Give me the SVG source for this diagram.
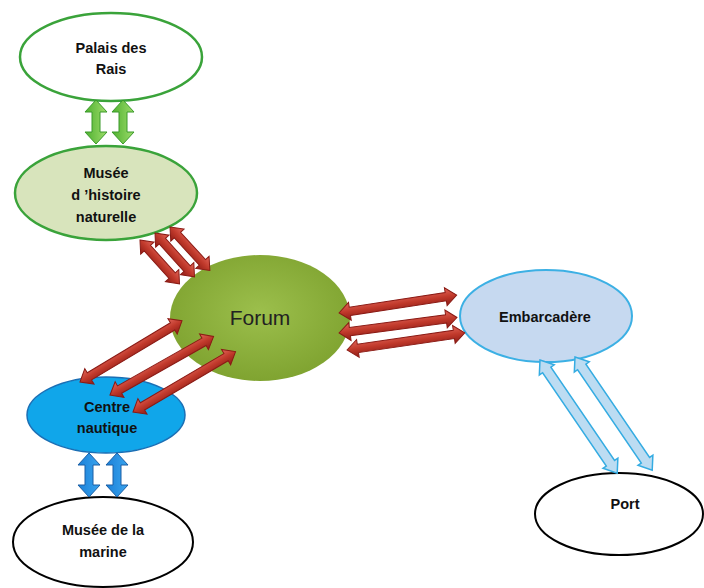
<svg xmlns="http://www.w3.org/2000/svg" xmlns:xlink="http://www.w3.org/1999/xlink" width="704" height="588" viewBox="0 0 704 588">
<style>
text{font-family:"Liberation Sans",Arial,sans-serif;font-weight:bold;font-size:14.5px;fill:#111;text-anchor:middle}
.forum{font-weight:normal;font-size:21px;fill:#222}
.red{fill:url(#gRed);stroke:#8a1a14;stroke-width:1}
.grn{fill:url(#gGrn);stroke:#3a9a2a;stroke-width:1}
.blu{fill:url(#gBlu);stroke:#1a5fa5;stroke-width:1}
.lbl{fill:#bcdcf2;stroke:#35ace2;stroke-width:1.5}
</style>
<defs>
<linearGradient id="gRed" x1="0" y1="0" x2="0" y2="1"><stop offset="0" stop-color="#e2665a"/><stop offset="0.5" stop-color="#c0392b"/><stop offset="1" stop-color="#8e1c16"/></linearGradient>
<linearGradient id="gGrn" x1="0" y1="0" x2="0" y2="1"><stop offset="0" stop-color="#9ddc6a"/><stop offset="1" stop-color="#4fb030"/></linearGradient>
<linearGradient id="gBlu" x1="0" y1="0" x2="0" y2="1"><stop offset="0" stop-color="#3aa4ee"/><stop offset="1" stop-color="#1a80d8"/></linearGradient>
<radialGradient id="gForum" cx="0.5" cy="0.45" r="0.6"><stop offset="0" stop-color="#9cbf4c"/><stop offset="1" stop-color="#7da12e"/></radialGradient>
<polygon id="a59" points="0,0 11,-9 11,-4.2 48,-4.2 48,-9 59,0 48,9 48,4.2 11,4.2 11,9"/>
<polygon id="a119" points="0,0 11,-9 11,-4.2 108,-4.2 108,-9 119,0 108,9 108,4.2 11,4.2 11,9"/>
<polygon id="a137" points="0,0 12,-9 12,-5 125,-5 125,-9 137,0 125,9 125,5 12,5 12,9"/>
<polygon id="a45" points="0,0 12,-11 12,-4 32,-4 32,-11 44,0 32,11 32,4 12,4 12,11"/>
</defs>
<rect width="704" height="588" fill="#fff"/>
<g id="palais">
<ellipse cx="111" cy="57" rx="91" ry="44" fill="#fff" stroke="#3aa33a" stroke-width="2.5"/>
<text x="111" y="53">Palais des</text><text x="111" y="74">Rais</text>
</g>
<g id="musee-histoire">
<ellipse cx="106" cy="193" rx="91" ry="47" fill="#d8e4bc" stroke="#3aa33a" stroke-width="2.5"/>
<text x="106" y="178">Musée</text><text x="106" y="200">d ’histoire</text><text x="106" y="222">naturelle</text>
</g>
<g id="forum">
<ellipse cx="260" cy="318" rx="90" ry="63" fill="url(#gForum)"/>
<text class="forum" x="260" y="325">Forum</text>
</g>
<g id="centre-nautique">
<ellipse cx="106" cy="415" rx="79" ry="38" fill="#10a6ea" stroke="#1a6fb5" stroke-width="1.5"/>
<text x="107" y="412">Centre</text><text x="107" y="433">nautique</text>
</g>
<g id="musee-marine">
<ellipse cx="103" cy="542" rx="90" ry="45" fill="#fff" stroke="#000" stroke-width="2"/>
<text x="103" y="535">Musée de la</text><text x="103" y="557">marine</text>
</g>
<g id="embarcadere">
<ellipse cx="546" cy="316" rx="86" ry="46" fill="#c6d9f0" stroke="#3cb0e4" stroke-width="2"/>
<text x="545" y="322">Embarcadère</text>
</g>
<g id="port">
<ellipse cx="619" cy="514" rx="84" ry="41" fill="#fff" stroke="#000" stroke-width="2"/>
<text x="625" y="509">Port</text>
</g>
<g id="connectors">
<use xlink:href="#a45" class="grn" transform="translate(96,100) rotate(90)"/>
<use xlink:href="#a45" class="grn" transform="translate(123,100) rotate(90)"/>
<use xlink:href="#a45" class="blu" transform="translate(89,453) rotate(90)"/>
<use xlink:href="#a45" class="blu" transform="translate(117,453) rotate(90)"/>
<use xlink:href="#a59" class="red" transform="translate(140,240) rotate(48)"/>
<use xlink:href="#a59" class="red" transform="translate(155,233) rotate(48)"/>
<use xlink:href="#a59" class="red" transform="translate(170,227) rotate(47.5)"/>
<use xlink:href="#a119" class="red" transform="translate(80,382) rotate(-31)"/>
<use xlink:href="#a119" class="red" transform="translate(110,395) rotate(-29.5)"/>
<use xlink:href="#a119" class="red" transform="translate(133,412) rotate(-30.5)"/>
<use xlink:href="#a119" class="red" transform="translate(339,313) rotate(-8.7)"/>
<use xlink:href="#a119" class="red" transform="translate(339,333) rotate(-7.5)"/>
<use xlink:href="#a119" class="red" transform="translate(347,350) rotate(-8.3)"/>
<use xlink:href="#a137" class="lbl" transform="translate(540,360) rotate(55.7)"/>
<use xlink:href="#a137" class="lbl" transform="translate(575,357) rotate(55.7)"/>
</g>
</svg>
